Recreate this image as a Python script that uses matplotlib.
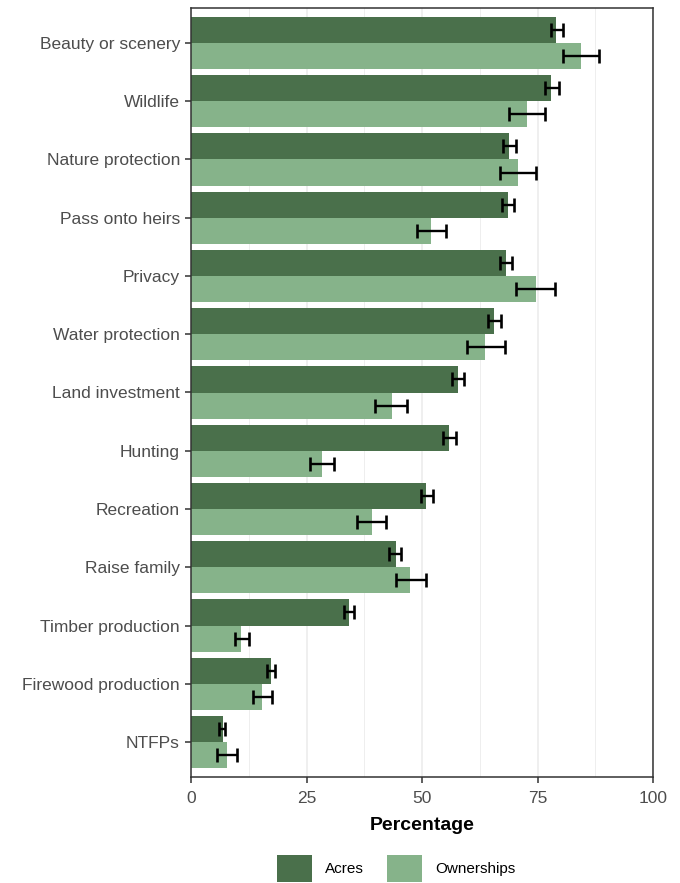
import numpy as np
import matplotlib.pyplot as plt
from matplotlib.patches import Patch

# Reasons for owning land (percent), top to bottom as in the chart
reasons = ["Beauty or scenery", "Wildlife", "Nature protection", "Pass onto heirs",
           "Privacy", "Water protection", "Land investment", "Hunting",
           "Recreation", "Raise family", "Timber production",
           "Firewood production", "NTFPs"]

acres = [79.1, 78.0, 68.9, 68.7, 68.1, 65.6, 57.7, 55.9, 50.9, 44.3, 34.2, 17.3, 6.9]
acres_lo = [77.9, 76.7, 67.6, 67.3, 66.8, 64.2, 56.4, 54.6, 49.7, 42.9, 33.1, 16.4, 6.1]
acres_hi = [80.5, 79.6, 70.4, 69.9, 69.5, 67.1, 59.1, 57.4, 52.3, 45.5, 35.3, 18.1, 7.4]

owners = [84.5, 72.7, 70.7, 52.0, 74.6, 63.7, 43.4, 28.4, 39.1, 47.4, 10.9, 15.4, 7.9]
owners_lo = [80.6, 68.9, 66.8, 49.0, 70.4, 59.7, 39.9, 25.8, 36.0, 44.3, 9.6, 13.5, 5.7]
owners_hi = [88.4, 76.6, 74.6, 55.2, 78.8, 67.9, 46.8, 31.0, 42.1, 50.9, 12.5, 17.5, 10.0]

dark = "#4a704b"
light = "#86b38a"
txt_grey = "#4d4d4d"

plt.rcParams["font.family"] = ["Liberation Sans", "DejaVu Sans"]

fig = plt.figure(figsize=(6.8, 8.83), dpi=100)
ax = fig.add_axes([191 / 680, (883 - 777) / 883, 462 / 680, (777 - 8) / 883])

n = len(reasons)
y = np.arange(n, 0, -1)  # Beauty at top
h = 0.45

acres = np.array(acres)
owners = np.array(owners)
a_err = [acres - np.array(acres_lo), np.array(acres_hi) - acres]
o_err = [owners - np.array(owners_lo), np.array(owners_hi) - owners]

ax.barh(y + h / 2, acres, height=h, color=dark, zorder=2)
ax.barh(y - h / 2, owners, height=h, color=light, zorder=2)
ax.errorbar(acres, y + h / 2, xerr=a_err, fmt="none", ecolor="black",
            elinewidth=1.7, capsize=5.3, capthick=1.9, zorder=3)
ax.errorbar(owners, y - h / 2, xerr=o_err, fmt="none", ecolor="black",
            elinewidth=1.7, capsize=5.3, capthick=1.9, zorder=3)

ax.set_xlim(0, 100)
ax.set_ylim(0.4, n + 0.6)
ax.set_xticks([0, 25, 50, 75, 100])
ax.set_xticks([12.5, 37.5, 62.5, 87.5], minor=True)
ax.set_yticks(y)
ax.set_yticklabels(reasons)
ax.grid(axis="x", which="major", color="#ebebeb", linewidth=1.1, zorder=0)
ax.grid(axis="x", which="minor", color="#ebebeb", linewidth=0.6, zorder=0)
ax.set_axisbelow(True)

ax.tick_params(axis="both", which="major", length=4, width=1.1, color="#333333",
               labelcolor=txt_grey, labelsize=12.5)
ax.tick_params(axis="x", which="major", pad=6)
ax.tick_params(axis="y", which="major", pad=4)
ax.tick_params(axis="x", which="minor", length=0)
for s in ax.spines.values():
    s.set_color("#333333")
    s.set_linewidth(1.1)

ax.set_xlabel("Percentage", fontsize=14, fontweight="bold", color="black", labelpad=8)

handles = [Patch(facecolor=dark, label="Acres"), Patch(facecolor=light, label="Ownerships")]
fig.legend(handles=handles, loc="center", bbox_to_anchor=(396 / 680, 14.5 / 883),
           ncol=2, frameon=False, fontsize=11, handlelength=2.3, handleheight=2.3,
           handletextpad=0.85, columnspacing=1.5, borderpad=0)

fig.savefig("out.png", dpi=100)
